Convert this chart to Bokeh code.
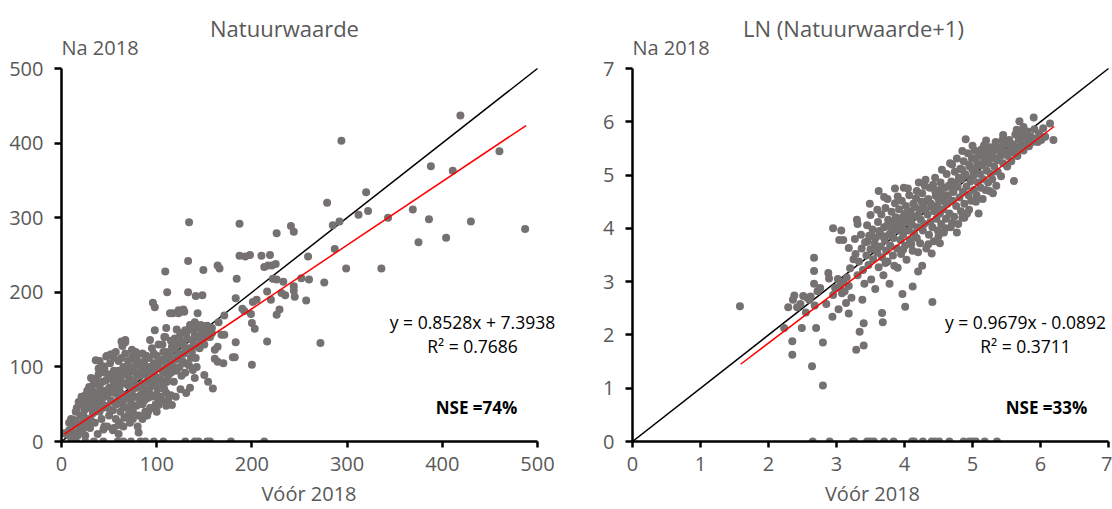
from bokeh.plotting import figure
from bokeh.layouts import row
from bokeh.models import Range1d, Label, FixedTicker
from bokeh.embed import file_html
from bokeh.resources import INLINE

# ---------------- data: Natuurwaarde ----------------
left_sparse = [
    (419, 437), (294, 403), (460, 389), (388, 369), (411, 363), (320, 334), (279, 320), (312, 304),
    (322, 309), (369, 311), (343, 300), (386, 298), (430, 295), (487, 285), (285, 290), (292, 295),
    (375, 267), (404, 273), (287, 258), (299, 232), (336, 232), (276, 213), (272, 132), (187, 292),
    (134, 294), (226, 279), (241, 289), (244, 281), (259, 248), (257, 189), (260, 217), (252, 219),
    (244, 208), (244, 202), (245, 194), (233, 214), (231, 199), (235, 196), (226, 170), (229, 177),
    (219, 250), (210, 249), (193, 248), (187, 249), (198, 250), (213, 234), (217, 236), (221, 236),
    (225, 238), (222, 218), (226, 217), (220, 190), (216, 201), (216, 134), (184, 218), (183, 192),
    (183, 133), (182, 113), (200, 103), (199, 171), (200, 159), (203, 151), (201, 187), (205, 190),
    (190, 178), (192, 175), (164, 236), (166, 232), (149, 230), (133, 242), (133, 200), (148, 196),
    (141, 195), (109, 228), (111, 200), (96, 186), (98, 180), (117, 172), (128, 177), (123, 172),
    (180, 113), (164, 107), (161, 111), (170, 105), (159, 71), (154, 80), (150, 89), (140, 85),
    (135, 72), (131, 65), (130, 92), (138, 96), (142, 100), (116, 49), (112, 56), (102, 49),
    (102, 56), (91, 40), (81, 12), (161, 123), (164, 127), (168, 143), (171, 143), (171, 169),
    (165, 160), (158, 145), (151, 151), (146, 156), (143, 172), (140, 160), (135, 156), (130, 149),
    (125, 145), (123, 176), (129, 174), (114, 172), (108, 140), (110, 152), (119, 138), (116, 127),
    (114, 118), (123, 118), (130, 123), (138, 127), (146, 131),
]
left_dense = [
    (5, 10), (8, 15), (10, 5), (12, 20), (15, 28), (18, 12), (20, 35), (20, 50), (22, 25), (24, 42),
    (25, 8), (26, 55), (28, 30), (28, 62), (30, 18), (30, 45), (32, 70), (33, 38), (35, 52), (35, 25),
    (36, 84), (38, 60), (38, 10), (40, 40), (40, 75), (40, 108), (42, 30), (42, 55), (44, 68), (45, 98),
    (45, 20), (46, 48), (47, 82), (48, 115), (48, 62), (50, 35), (50, 72), (52, 55), (52, 90), (54, 15),
    (54, 42), (55, 78), (55, 112), (56, 65), (57, 30), (58, 85), (58, 50), (60, 95), (60, 60), (60, 22),
    (61, 72), (62, 40), (63, 88), (64, 55), (64, 128), (65, 100), (66, 78), (66, 32), (67, 133), (68, 62),
    (68, 92), (69, 45), (70, 108), (70, 75), (71, 85), (72, 55), (72, 25), (73, 98), (74, 68), (75, 115),
    (75, 40), (76, 82), (77, 60), (78, 92), (78, 120), (79, 48), (80, 72), (80, 105), (81, 35), (82, 88),
    (83, 62), (84, 98), (85, 118), (85, 50), (86, 78), (87, 108), (88, 40), (88, 90), (89, 68), (90, 100),
    (90, 58), (91, 82), (92, 112), (93, 45), (94, 95), (95, 75), (95, 125), (96, 62), (97, 105), (98, 88),
    (99, 50), (100, 115), (100, 98), (101, 70), (102, 130), (103, 85), (104, 60), (105, 108), (106, 95),
    (107, 120), (108, 78), (109, 140), (110, 100), (110, 65), (112, 88), (113, 118), (114, 105), (115, 135),
    (116, 95), (118, 80), (119, 125), (120, 110), (121, 150), (122, 98), (124, 140), (125, 118), (126, 88),
    (128, 132), (130, 105), (131, 145), (133, 125), (135, 150), (136, 112), (138, 135), (140, 142),
    (142, 128), (144, 152), (146, 138), (148, 155), (150, 145), (152, 140), (155, 150),
    (36, 109), (44, 101), (39, 98), (31, 85), (52, 117), (47, 114), (63, 134), (67, 136), (74, 123),
    (78, 118), (93, 136), (98, 149), (18, 53), (12, 29), (3, 11), (25, 62), (29, 73), (44, 16), (48, 20),
    (55, 18), (61, 25), (15, 40), (22, 15), (34, 60), (58, 70), (65, 48), (70, 90), (82, 75), (92, 70),
    (105, 82), (115, 92), (62, 80), (52, 66), (43, 45), (33, 48), (27, 20), (17, 8), (75, 95), (86, 65),
    (97, 80), (108, 110), (120, 95), (127, 108),
    (8, 25), (10, 30), (14, 10), (16, 45), (19, 22), (21, 60), (23, 35), (26, 45), (27, 68), (29, 52),
    (31, 28), (32, 60), (34, 78), (36, 42), (37, 66), (39, 90), (41, 50), (43, 80), (45, 60), (46, 92),
    (49, 45), (50, 85), (51, 105), (53, 70), (55, 95), (56, 52), (57, 120), (59, 80), (60, 108), (62, 65),
    (63, 112), (65, 90), (66, 58), (67, 118), (69, 100), (70, 62), (72, 80), (73, 110), (74, 50), (76, 100),
    (77, 72), (79, 112), (80, 88), (81, 58), (83, 105), (84, 75), (86, 95), (87, 55), (89, 115), (90, 80),
    (91, 68), (93, 100), (94, 60), (96, 90), (97, 118), (99, 75), (100, 85), (102, 100), (103, 110),
    (105, 72), (106, 130), (108, 92), (110, 120), (111, 80), (113, 98), (115, 110), (117, 125), (118, 100),
    (120, 132), (122, 115), (124, 100), (126, 130), (129, 118), (132, 138), (134, 102), (137, 120),
    (139, 150), (141, 112), (143, 140), (145, 125), (147, 148), (150, 130), (153, 155), (156, 140),
    (158, 152), (60, 10), (65, 20), (70, 35), (75, 30), (80, 20), (85, 30), (90, 35), (95, 45), (100, 40),
    (105, 55), (110, 48), (115, 62), (120, 60), (125, 70), (100, 60), (108, 70),
]
left_zero_x = [12, 15, 25, 34, 44, 59, 65, 73, 83, 88, 97, 107, 130, 140, 144, 153, 156, 178, 213]
left_fit = (0.8528, 7.3938, 3, 488)   # slope, intercept, x start, x end

# ---------------- data: LN (Natuurwaarde+1) ----------------
right_sparse = [
    (1.58, 2.54), (2.80, 1.05), (2.64, 1.41), (2.35, 1.63), (2.35, 1.88), (2.80, 1.86), (2.70, 2.13),
    (2.49, 2.13), (2.23, 2.13), (2.29, 2.52), (2.36, 2.66), (2.38, 2.74), (2.51, 2.73), (2.57, 2.70),
    (2.67, 3.45), (2.67, 3.20), (2.67, 2.96), (2.88, 3.16), (2.89, 3.06), (2.95, 4.00), (3.07, 3.96),
    (3.04, 3.78), (3.10, 3.78), (3.18, 3.63), (3.27, 3.80), (2.94, 2.34), (3.03, 2.48), (3.18, 2.40),
    (3.29, 1.72), (3.40, 1.80), (3.34, 2.06), (3.40, 2.22), (3.38, 2.66), (3.67, 2.41), (3.68, 2.24),
    (3.97, 2.77), (4.01, 2.53), (4.12, 2.91), (4.41, 2.62), (4.26, 3.30), (4.20, 3.19), (4.40, 3.53),
    (4.52, 3.72), (3.62, 4.70), (3.70, 4.59), (3.86, 4.75), (3.99, 4.76), (3.49, 4.46), (3.30, 4.16),
    (3.31, 4.08), (4.90, 5.67), (5.69, 6.01), (5.90, 6.08), (6.14, 5.97), (6.19, 5.66), (5.61, 4.89),
    (5.30, 4.66), (5.09, 4.28), (4.88, 4.20), (4.77, 3.92),
    (2.42, 2.52), (2.47, 2.58), (2.55, 2.42), (2.60, 2.66), (2.62, 2.72), (2.68, 2.55), (2.72, 2.82),
    (2.76, 2.88), (2.85, 2.58), (2.95, 2.75), (2.98, 2.88), (3.02, 3.05), (3.05, 2.92), (3.08, 2.78),
    (3.12, 2.82), (3.15, 3.08), (3.18, 2.92), (3.20, 3.25), (3.22, 2.70), (3.25, 3.42), (3.14, 2.60),
    (3.10, 3.00),
]
right_dense = [
    (3.28, 3.52), (3.31, 3.12), (3.33, 3.38), (3.36, 3.88), (3.37, 3.62), (3.39, 3.22), (3.41, 2.96),
    (3.42, 3.74), (3.44, 3.49), (3.45, 4.06), (3.47, 3.31), (3.48, 3.86), (3.50, 3.61), (3.51, 3.04),
    (3.53, 3.98), (3.54, 3.42), (3.56, 3.72), (3.57, 2.86), (3.58, 3.83), (3.60, 3.54), (3.61, 4.12),
    (3.62, 3.27), (3.64, 3.91), (3.65, 3.66), (3.66, 4.26), (3.67, 3.46), (3.69, 3.12), (3.70, 4.02),
    (3.71, 3.78), (3.72, 4.38), (3.73, 3.58), (3.75, 3.38), (3.76, 4.16), (3.77, 3.88), (3.78, 2.96),
    (3.79, 3.68), (3.81, 4.31), (3.82, 4.06), (3.83, 3.49), (3.84, 3.82), (3.86, 4.47), (3.87, 4.21),
    (3.88, 3.97), (3.89, 3.62), (3.90, 3.26), (3.92, 4.36), (3.93, 4.11), (3.94, 3.78), (3.95, 3.52),
    (3.96, 4.52), (3.97, 4.01), (3.98, 3.88), (4.00, 4.27), (4.01, 3.68), (4.02, 4.42), (4.03, 3.41),
    (4.04, 4.12), (4.06, 3.96), (4.07, 4.62), (4.08, 3.78), (4.09, 4.32), (4.11, 4.07), (4.12, 3.58),
    (4.13, 4.46), (4.14, 3.91), (4.16, 4.22), (4.17, 4.56), (4.18, 3.82), (4.19, 4.02), (4.21, 4.86),
    (4.22, 4.36), (4.23, 3.72), (4.24, 4.16), (4.26, 4.66), (4.27, 3.96), (4.28, 4.41), (4.29, 4.08),
    (4.31, 4.91), (4.32, 3.62), (4.33, 4.52), (4.34, 4.26), (4.36, 3.88), (4.37, 4.76), (4.38, 4.12),
    (4.39, 4.46), (4.41, 4.02), (4.42, 4.82), (4.43, 3.76), (4.44, 4.32), (4.46, 4.61), (4.47, 4.18),
    (4.48, 4.42), (4.49, 3.96), (4.51, 4.72), (4.52, 4.28), (4.53, 4.86), (4.54, 4.08), (4.56, 4.52),
    (4.57, 4.36), (4.58, 3.92), (4.59, 4.76), (4.61, 4.18), (4.62, 5.02), (4.63, 4.46), (4.64, 4.62),
    (4.66, 4.28), (4.67, 5.22), (4.68, 4.02), (4.69, 4.88), (4.71, 4.52), (4.72, 4.68), (4.73, 4.22),
    (4.74, 5.06), (4.76, 4.42), (4.77, 5.31), (4.78, 4.78), (4.79, 4.08), (4.81, 4.58), (4.82, 5.12),
    (4.83, 4.32), (4.84, 4.92), (4.86, 4.68), (4.87, 5.26), (4.88, 4.46), (4.89, 5.02), (4.91, 4.78),
    (4.92, 4.28), (4.93, 5.41), (4.94, 4.62), (4.96, 5.16), (4.97, 4.88), (4.98, 4.52), (4.99, 5.32),
    (5.01, 4.98), (5.02, 4.72), (5.03, 5.46), (5.04, 5.12), (5.06, 4.62), (5.07, 5.22), (5.08, 4.86),
    (5.09, 5.36), (5.11, 5.02), (5.12, 4.76), (5.13, 5.48), (5.14, 5.18), (5.16, 4.92), (5.17, 5.56),
    (5.18, 5.28), (5.19, 4.72), (5.21, 5.08), (5.22, 5.42), (5.23, 4.86), (5.24, 5.22), (5.26, 5.52),
    (5.27, 5.02), (5.28, 5.32), (5.29, 4.92), (5.31, 5.46), (5.32, 5.16), (5.34, 5.62), (5.36, 5.28),
    (5.37, 5.06), (5.39, 5.52), (5.41, 5.36), (5.42, 4.98), (5.44, 5.66), (5.45, 5.22), (5.47, 5.42),
    (5.49, 5.58), (5.51, 5.16), (5.52, 5.36), (5.54, 5.66), (5.56, 5.48), (5.57, 5.26), (5.59, 5.58),
    (5.61, 5.42), (5.63, 5.76), (5.64, 5.52), (5.66, 5.36), (5.68, 5.66), (5.69, 5.48), (5.71, 5.78),
    (5.73, 5.58), (5.75, 5.46), (5.77, 5.72), (5.79, 5.62), (5.81, 5.82), (5.83, 5.54), (5.86, 5.72),
    (5.88, 5.62), (5.91, 5.86), (5.93, 5.68), (5.96, 5.62), (5.98, 5.78), (6.01, 5.66), (6.04, 5.88),
    (6.07, 5.72),
    (3.45, 3.75), (3.52, 3.85), (3.58, 3.65), (3.63, 3.95), (3.68, 3.85), (3.74, 4.05), (3.80, 3.92),
    (3.85, 4.12), (3.91, 4.00), (3.96, 4.20), (4.02, 4.15), (4.05, 4.30), (4.10, 4.20), (4.15, 4.40),
    (4.20, 4.25), (4.25, 4.50), (4.30, 4.35), (4.35, 4.55), (4.40, 4.40), (4.45, 4.70), (4.50, 4.55),
    (4.55, 4.65), (4.60, 4.50), (4.65, 4.80), (4.70, 4.75), (4.75, 4.85), (4.80, 4.95), (4.85, 5.10),
    (4.90, 5.00), (4.95, 5.20), (5.00, 5.10), (5.05, 5.30), (5.10, 5.20), (5.15, 5.40), (5.20, 5.30),
    (5.25, 5.45), (5.30, 5.35), (5.35, 5.50), (5.40, 5.45), (5.45, 5.55), (3.72, 3.35), (3.85, 3.30),
    (3.98, 3.60), (4.10, 3.70), (4.20, 3.55), (4.35, 3.70), (4.50, 3.85), (4.60, 4.00), (4.70, 4.10),
    (4.85, 4.20), (4.95, 4.35), (5.05, 4.50), (5.15, 4.55), (5.25, 4.70), (5.35, 4.80), (3.50, 4.25),
    (3.60, 4.35), (3.75, 4.55), (3.90, 4.60), (4.05, 4.75), (4.18, 4.70), (4.30, 4.80), (4.45, 4.95),
    (4.55, 5.10), (4.70, 5.20), (4.85, 5.45), (5.00, 5.55), (5.20, 5.65), (5.45, 5.75), (5.65, 5.85),
    (5.75, 5.90),
]
right_zero_x = [2.65, 2.90, 3.24, 3.26, 3.45, 3.50, 3.55, 3.70, 3.84, 4.11, 4.14, 4.27, 4.40, 4.45,
                4.51, 4.66, 4.87, 4.95, 5.00, 5.05, 5.18, 5.36]
right_fit = (0.9679, -0.0892, 1.59, 6.2)

titles = ["Natuurwaarde", "LN (Natuurwaarde+1)"]
equations = ["y = 0.8528x + 7.3938", "y = 0.9679x - 0.0892"]
r2_texts = ["R\u00b2 = 0.7686", "R\u00b2 = 0.3711"]
nse_texts = ["NSE =74%", "NSE =33%"]
left_ticks = [0, 100, 200, 300, 400, 500]
right_ticks = [0, 1, 2, 3, 4, 5, 6, 7]

FONT = "Open Sans"
GREY = "#595959"
DOT = "#767171"
FRAME_H = 441      # frame spans the figure from its top down to the x axis
AXIS_H = 373       # pixels from 0 to the axis maximum
AXIS_W = 476


def panel(width, border_left, vmax, ticks, sparse, dense, zero_x, fit,
          title, eq, r2, nse, title_x, eq_x, nse_x):
    frame_w = width - border_left
    p = figure(width=width, height=509, output_backend="svg", toolbar_location=None,
               x_range=Range1d(0, vmax * frame_w / AXIS_W),
               y_range=Range1d(0, vmax * FRAME_H / AXIS_H),
               min_border_left=border_left, min_border_right=0,
               min_border_top=0, min_border_bottom=68)
    p.outline_line_color = None
    p.grid.visible = False
    for ax in (p.xaxis[0], p.yaxis[0]):
        ax.ticker = FixedTicker(ticks=ticks)
        ax.bounds = (0, vmax)
        ax.axis_line_color = "black"
        ax.axis_line_width = 2.5
        ax.major_tick_line_color = "black"
        ax.major_tick_line_width = 2.5
        ax.major_tick_in = 0
        ax.minor_tick_line_color = None
        ax.major_label_text_font = FONT
        ax.major_label_text_font_size = "20px"
        ax.major_label_text_color = GREY
    p.xaxis.major_tick_out = 6
    p.xaxis.major_label_standoff = 9
    p.yaxis.major_tick_out = 7
    p.yaxis.major_label_standoff = 11

    # 1:1 line
    p.line([0, vmax], [0, vmax], line_color="black", line_width=1.5)
    # points
    xs = [a for a, b in sparse] + [a for a, b in dense] + list(zero_x)
    ys = [b for a, b in sparse] + [b for a, b in dense] + [0] * len(zero_x)
    p.scatter(xs, ys, size=8, fill_color=DOT, line_color=None)
    # trend line
    slope, icpt, x0, x1 = fit
    p.line([x0, x1], [slope * x0 + icpt, slope * x1 + icpt], line_color="#ff0000", line_width=1.5)

    def lab(text, x, y, size, color, align="center", bold=False):
        p.add_layout(Label(x=x, y=y, x_units="screen", y_units="screen", text=text,
                           text_font=FONT, text_font_size=size, text_color=color,
                           text_align=align, text_baseline="middle",
                           text_font_style="bold" if bold else "normal"))

    lab(title, title_x, 414, "22px", GREY)
    lab("Na 2018", 0, 394, "20px", GREY, align="left")
    lab(eq, eq_x, 120, "17.5px", "black")
    lab(r2, eq_x, 96, "17.5px", "black")
    lab(nse, nse_x, 34, "17px", "black", bold=True)

    p.xaxis.axis_label = "V\u00f3\u00f3r 2018"
    p.xaxis.axis_label_text_font = FONT
    p.xaxis.axis_label_text_font_size = "20px"
    p.xaxis.axis_label_text_font_style = "normal"
    p.xaxis.axis_label_text_color = GREY
    p.xaxis.axis_label_standoff = 6
    return p


p1 = panel(556, 61, 500, left_ticks, left_sparse, left_dense, left_zero_x, left_fit,
           titles[0], equations[0], r2_texts[0], nse_texts[0], 223, 411, 415)
p2 = panel(556, 76, 7, right_ticks, right_sparse, right_dense, right_zero_x, right_fit,
           titles[1], equations[1], r2_texts[1], nse_texts[1], 221, 393, 414)

layout = row(p1, p2)
open("out.html", "w").write(file_html(layout, INLINE))
